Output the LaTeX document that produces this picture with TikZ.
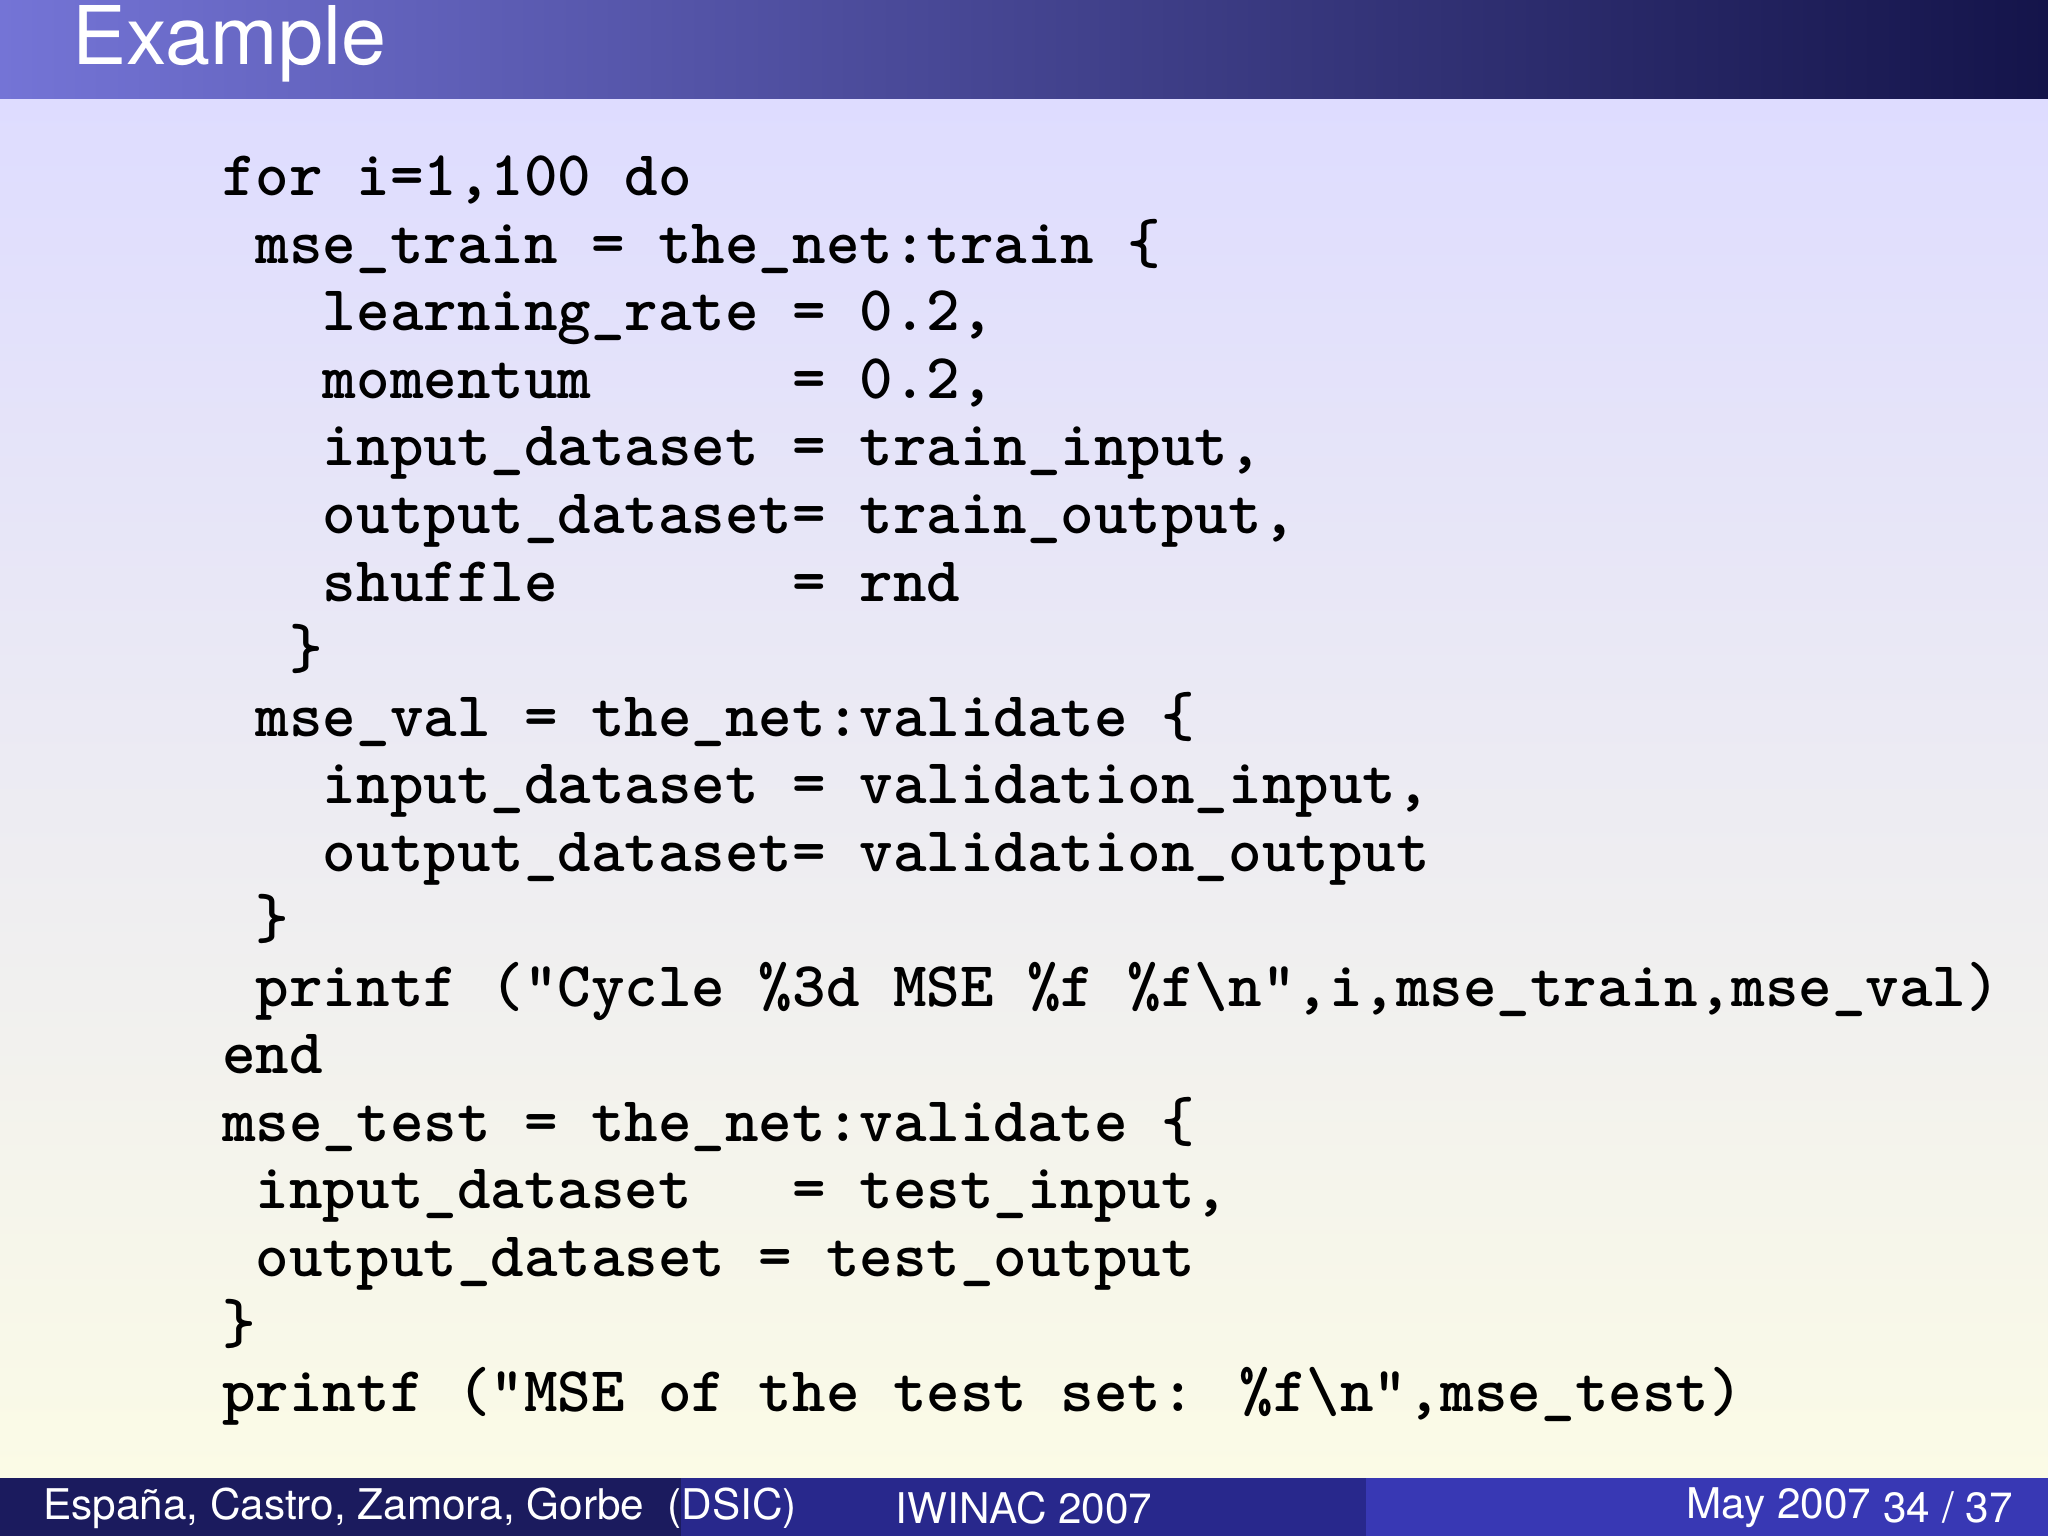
\documentclass[tikz,border=0pt]{standalone}
\usepackage{fontspec}
\setsansfont{TeX Gyre Heros}
\usetikzlibrary{positioning}

\definecolor{headL}{HTML}{7474D6}
\definecolor{headR}{HTML}{14144A}
\definecolor{bgTop}{HTML}{DEDCFF}
\definecolor{bgBot}{HTML}{FBFBE6}
\definecolor{footA}{HTML}{1B1B5E}
\definecolor{footB}{HTML}{28288C}
\definecolor{footC}{HTML}{3838B4}

\tikzset{
  code/.style={anchor=base west, inner sep=0pt,
    font=\fontsize{14.2}{17}\selectfont\ttfamily\bfseries},
  foot/.style={text=white, inner sep=0pt, font=\fontsize{9.4}{11}\selectfont\sffamily}
}

\begin{document}
\begin{tikzpicture}

\def\ch{0.262}
\def\cx{1.73}
\def\ly{0.5276}

\useasboundingbox (0,0) rectangle (16,-12);

% BACKGROUND
\shade [top color=bgTop, bottom color=bgBot] (0,-0.77) rectangle (16,-11.55);
\shade [left color=headL, right color=headR] (0,0) rectangle (16,-0.77);
\fill [footA] (0,-11.55) rectangle (5.32,-12);
\fill [footB] (5.32,-11.55) rectangle (10.67,-12);
\fill [footC] (10.67,-11.55) rectangle (16,-12);

% TITLE
\node [text=white, anchor=west, inner sep=0pt, font=\fontsize{18}{21}\selectfont\sffamily] (title) at (0.56,-0.34) {Example};

% CODE
\node [code] (l1)  at ({\cx+0*\ch},{-1.53-0*\ly})  {for i=1,100 do};
\node [code] (l2)  at ({\cx+1*\ch},{-1.53-1*\ly})  {mse\_train = the\_net:train \{};
\node [code] (l3)  at ({\cx+3*\ch},{-1.53-2*\ly})  {learning\_rate = 0.2,};
\node [code] (l4)  at ({\cx+3*\ch},{-1.53-3*\ly})  {momentum\ \ \ \ \ \ = 0.2,};
\node [code] (l5)  at ({\cx+3*\ch},{-1.53-4*\ly})  {input\_dataset = train\_input,};
\node [code] (l6)  at ({\cx+3*\ch},{-1.53-5*\ly})  {output\_dataset= train\_output,};
\node [code] (l7)  at ({\cx+3*\ch},{-1.53-6*\ly})  {shuffle\ \ \ \ \ \ \ = rnd};
\node [code] (l8)  at ({\cx+2*\ch},{-1.53-7*\ly})  {\}};
\node [code] (l9)  at ({\cx+1*\ch},{-1.53-8*\ly})  {mse\_val = the\_net:validate \{};
\node [code] (l10) at ({\cx+3*\ch},{-1.53-9*\ly})  {input\_dataset = validation\_input,};
\node [code] (l11) at ({\cx+3*\ch},{-1.53-10*\ly}) {output\_dataset= validation\_output};
\node [code] (l12) at ({\cx+1*\ch},{-1.53-11*\ly}) {\}};
\node [code] (l13) at ({\cx+1*\ch},{-1.53-12*\ly}) {printf ("Cycle \%3d MSE \%f \%f\textbackslash n",i,mse\_train,mse\_val)};
\node [code] (l14) at ({\cx+0*\ch},{-1.53-13*\ly}) {end};
\node [code] (l15) at ({\cx+0*\ch},{-1.53-14*\ly}) {mse\_test = the\_net:validate \{};
\node [code] (l16) at ({\cx+1*\ch},{-1.53-15*\ly}) {input\_dataset\ \ \ = test\_input,};
\node [code] (l17) at ({\cx+1*\ch},{-1.53-16*\ly}) {output\_dataset = test\_output};
\node [code] (l18) at ({\cx+0*\ch},{-1.53-17*\ly}) {\}};
\node [code] (l19) at ({\cx+0*\ch},{-1.53-18*\ly}) {printf ("MSE of the test set: \%f\textbackslash n",mse\_test)};

% FOOTER
\node [foot, anchor=west] (authors) at (0.33,-11.78) {España, Castro, Zamora, Gorbe\ \ (DSIC)};
\node [foot] (conf) at (8,-11.78) {IWINAC 2007};
\node [foot, anchor=west] (date) at (13.17,-11.78) {May 2007};
\node [foot, anchor=east] (page) at (15.73,-11.78) {34 / 37};

\end{tikzpicture}
\end{document}
